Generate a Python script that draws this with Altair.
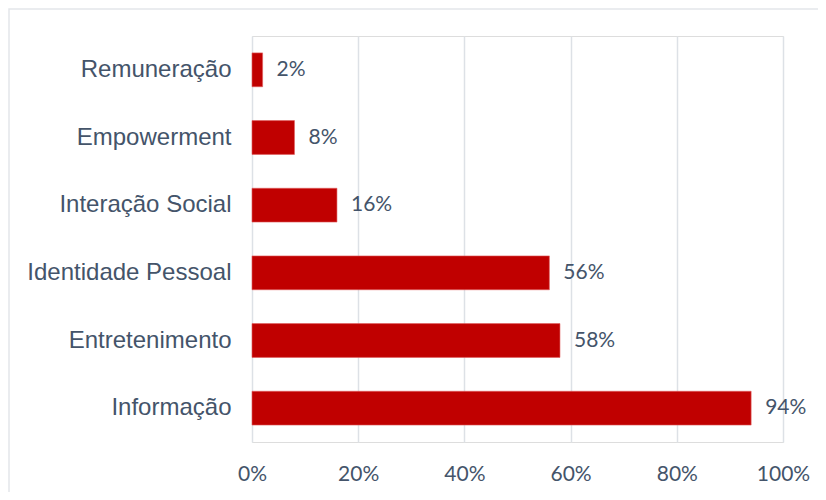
import altair as alt
import pandas as pd

categories = ["Remuneração", "Empowerment", "Interação Social",
              "Identidade Pessoal", "Entretenimento", "Informação"]
values = [2, 8, 16, 56, 58, 94]
x_ticks = [0, 20, 40, 60, 80, 100]

df = pd.DataFrame({"cat": categories, "val": values})
df["label"] = [f"{v}%" for v in values]

TXT = "#44546A"
GRID = "#DDE1E6"

y_enc = alt.Y("cat:N", sort=categories, title=None,
              scale=alt.Scale(paddingInner=0.5, paddingOuter=0.25),
              axis=alt.Axis(labelFont="Liberation Sans", labelFontSize=24,
                            labelColor=TXT, labelPadding=21, labelLimit=400,
                            ticks=False, domain=False, grid=False))
x_enc = alt.X("val:Q", title=None,
              scale=alt.Scale(domain=[0, 100], nice=False),
              axis=alt.Axis(values=x_ticks, labelExpr="datum.value + '%'",
                            labelFont="Lato", labelFontSize=21,
                            labelColor=TXT, labelPadding=21, ticks=False,
                            labelFlush=False, labelOverlap=False,
                            domain=False, grid=True, gridColor=GRID,
                            gridWidth=1.5))

bars = alt.Chart(df).mark_bar(color="#C00000", stroke="#E06060",
                              strokeWidth=0.6).encode(x=x_enc, y=y_enc)

labels = alt.Chart(df).mark_text(align="left", baseline="middle", dx=14,
                                 font="Lato", fontSize=21, color=TXT).encode(
    x=alt.X("val:Q"), y=alt.Y("cat:N", sort=categories), text="label:N")

frame = alt.Chart(pd.DataFrame({"a": [0]})).mark_rect(
    fill=None, stroke="#E3E6EA", strokeWidth=1.5).encode(
    x=alt.value(-243), x2=alt.value(580), y=alt.value(-27), y2=alt.value(470))

chart = alt.layer(frame, bars, labels).properties(
    width=531, height=406,
    autosize=alt.AutoSizeParams(type="none"),
    padding={"left": 244, "top": 28, "right": 35, "bottom": 50},
).configure_view(stroke=GRID, strokeWidth=1.5).configure(background="white")

chart.save("out.html", embed_options={"renderer": "svg", "actions": False})
